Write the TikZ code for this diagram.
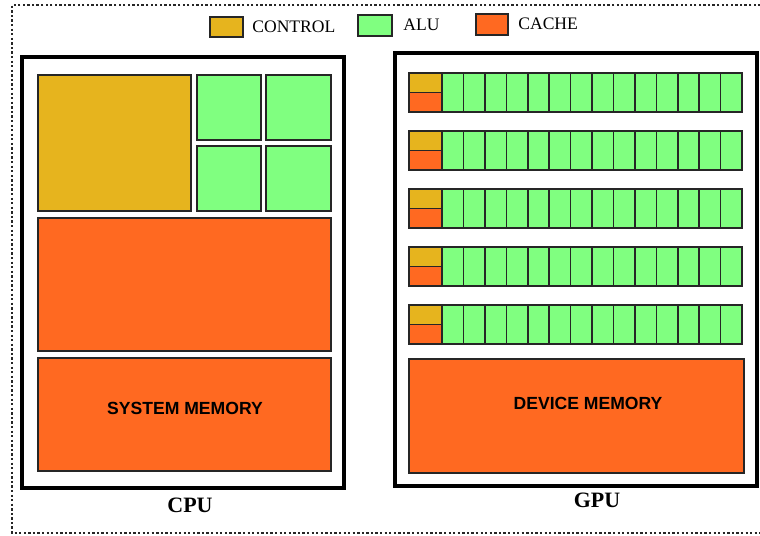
\documentclass[tikz,border=0pt]{standalone}
\usepackage{fontspec}
\setmainfont{Liberation Serif}
\newfontfamily\arialfont{Liberation Sans}
\usepackage{tikz}

\definecolor{ctrlcol}{RGB}{230,180,30}
\definecolor{alucol}{RGB}{128,255,128}
\definecolor{cachecol}{RGB}{255,105,33}

\tikzset{
  unit/.style={draw=black!85, line width=0.9pt},
  ctrl/.style={unit, fill=ctrlcol},
  alu/.style={unit, fill=alucol},
  cache/.style={unit, fill=cachecol},
  chip/.style={draw=black, line width=2.3pt},
  memlabel/.style={font=\arialfont\bfseries\fontsize{10}{12}\selectfont},
  chiplabel/.style={font=\bfseries\fontsize{12.5}{14}\selectfont},
  keylabel/.style={font=\fontsize{10}{12}\selectfont, anchor=west, inner sep=0pt}
}

\begin{document}
\begin{tikzpicture}[x=0.02cm, y=-0.02cm]
  \useasboundingbox (0,0) rectangle (760,535);
  % frame
  \draw[black!85, line width=1.3pt, dash pattern=on 1.3pt off 1.3pt] (765,5) -| (12,533) -- (765,533);

  % legend
  \draw[ctrl, line width=1.3pt] (210,17) rectangle (243,37);
  \node[keylabel] (keyctrl) at (252,27) {CONTROL};
  \draw[alu, line width=1.3pt] (358,15) rectangle (392,36);
  \node[keylabel] (keyalu) at (403,25) {ALU};
  \draw[cache, line width=1.3pt] (476,14) rectangle (508,35);
  \node[keylabel] (keycache) at (518,24) {CACHE};

  % CPU
  \draw[chip] (22,57) rectangle (344,488);
  \draw[ctrl] (38,75) rectangle (191,211);
  \draw[alu] (197,75) rectangle (261,140);
  \draw[alu] (266,75) rectangle (331,140);
  \draw[alu] (197,146) rectangle (261,211);
  \draw[alu] (266,146) rectangle (331,211);
  \draw[cache] (38,218) rectangle (331,351);
  \draw[cache] (38,358) rectangle (331,471);
  \node[memlabel] (sysmem) at (185,408) {SYSTEM MEMORY};
  \node[chiplabel] (cpulabel) at (190,505) {CPU};

  % GPU
  \draw[chip] (395,53) rectangle (757,486);
  \foreach \yt in {73,131,189,247,305} {
    \draw[ctrl] (409,\yt) rectangle (442,{\yt+19.5});
    \draw[cache] (409,{\yt+19.5}) rectangle (442,{\yt+39});
    \foreach \i in {0,...,13}
      \draw[alu] ({442+\i*21.43},\yt) rectangle ++(21.43,39);
  }
  \draw[cache] (409,359) rectangle (744,473);
  \node[memlabel] (devmem) at (588,403) {DEVICE MEMORY};
  \node[chiplabel] (gpulabel) at (597,500) {GPU};
\end{tikzpicture}
\end{document}
